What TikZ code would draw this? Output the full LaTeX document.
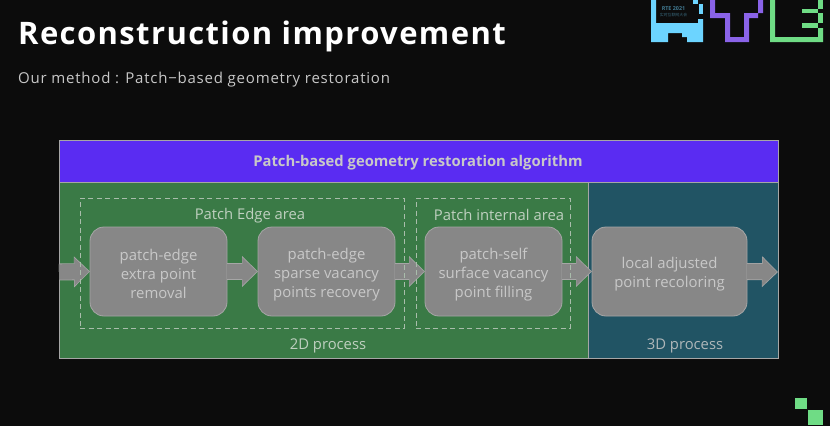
\documentclass[tikz,border=0pt]{standalone}
\usepackage{fontspec}
\setmainfont{Open Sans}
\newfontfamily\titlefont[LetterSpace=4.5]{Open Sans}
\newfontfamily\subfont[LetterSpace=5.2]{Open Sans}
\newfontfamily\cjkfont{Noto Sans CJK SC}
\usetikzlibrary{arrows.meta,calc}
\definecolor{bgc}{HTML}{0C0C0C}
\definecolor{barc}{HTML}{5A2CF2}
\definecolor{greenc}{HTML}{3A7A46}
\definecolor{tealc}{HTML}{215464}
\definecolor{boxc}{HTML}{878787}
\definecolor{edgec}{HTML}{A6A6A6}
\definecolor{txtc}{HTML}{C8C8C8}
\definecolor{lblc}{HTML}{BFD0C0}
\definecolor{dashc}{HTML}{A9BDAB}
\definecolor{logob}{HTML}{6CD4FF}
\definecolor{logop}{HTML}{8A63E8}
\definecolor{logog}{HTML}{6FDC85}
\tikzset{
  x=1pt,y=-1pt,
  panel/.style={draw=edgec,line width=.7pt,anchor=north west,inner sep=0pt,outer sep=0pt},
  stepbox/.style={draw=edgec,line width=.8pt,fill=boxc,rounded corners=14pt,inner sep=0pt,outer sep=0pt,minimum height=89pt},
  steptext/.style={text=txtc,font=\fontsize{14.9}{19}\selectfont,align=center,inner sep=0pt,yshift=-2.7pt},
  areabox/.style={draw=dashc,line width=.8pt,dash pattern=on 5pt off 3.5pt,anchor=north west,inner sep=0pt,outer sep=0pt},
  lbl/.style={text=lblc,font=\fontsize{14.8}{17}\selectfont,inner sep=0pt},
  flowouter/.style={draw=edgec,line width=17pt,-{Triangle[length=16pt,width=30pt,fill=edgec]}},
  flowinner/.style={draw=boxc,line width=15.4pt,shorten >=1.2pt,-{Triangle[length=14.4pt,width=27pt,fill=boxc]}},
}
\newcommand{\flowarrow}[2]{%
  \draw[flowouter] (#1) -- (#2);
  \draw[flowinner] (#1) -- (#2);}
\begin{document}
\begin{tikzpicture}
\useasboundingbox (0,0) rectangle (830,426);
\fill[bgc] (0,0) rectangle (830,426);
% headings
\node[anchor=base west,inner sep=0pt,text=white,font=\titlefont\bfseries\fontsize{31}{36}\selectfont] (title) at (18,44) {Reconstruction improvement};
\node[anchor=base west,inner sep=0pt,text=txtc,font=\subfont\fontsize{15}{18}\selectfont] (sub) at (18,83) {Our method : Patch−based geometry restoration};
% panels
\node[panel,fill=barc,minimum width=719pt,minimum height=42pt] (bar) at (59,140) {};
\node[text=txtc,font=\bfseries\fontsize{14.8}{18}\selectfont,inner sep=0pt] (bartext) at (418,163) {Patch-based geometry restoration algorithm};
\node[panel,fill=greenc,minimum width=529pt,minimum height=176pt] (green) at (59,182) {};
\node[panel,fill=tealc,minimum width=190pt,minimum height=176pt] (teal) at (588,182) {};
% steps
\node[stepbox,minimum width=137pt,label={[steptext]center:{patch-edge\\extra point\\removal}}] (s1) at (158.5,271.5) {};
\node[stepbox,minimum width=137pt,label={[steptext]center:{patch-edge\\sparse vacancy\\points recovery}}] (s2) at (326.5,271.5) {};
\node[stepbox,minimum width=137pt,label={[steptext]center:{patch-self\\surface vacancy\\point filling}}] (s3) at (493.5,271.5) {};
\node[stepbox,minimum width=155pt,label={[steptext]center:{local adjusted\\point recoloring}}] (s4) at (669.5,271.5) {};
\coordinate (in) at (59,272);
\coordinate (out) at (778,272);
% connectors
\flowarrow{in}{s1.west}
\flowarrow{s1.east}{s2.west}
\flowarrow{s2.east}{s3.west}
\flowarrow{s3.east}{s4.west}
\flowarrow{s4.east}{out}
% dashed areas
\node[areabox,minimum width=324pt,minimum height=130pt] (a1) at (80,198) {};
\node[areabox,minimum width=154pt,minimum height=130pt] (a2) at (416,198) {};
\node[lbl] (l1) at (250,215.5) {Patch Edge area};
\node[lbl] (l2) at (499,215) {Patch internal area};
\node[lbl] (l3) at (328,346) {2D process};
\node[lbl,text=txtc!85!tealc] (l4) at (685,346) {3D process};
% logo
\fill[logob] (651,0) -- (651,42) -- (668,42) -- (668,33) -- (682,33) -- (682,37) -- (687,37) -- (687,42) -- (703,42) -- (703,19) -- (698,19) -- (698,23) -- (656,23) -- (656,0) -- cycle;
\fill[logob] (693,0) rectangle (698,3.5);
\fill[logob] (699,4) rectangle (703,14);
\node[text=logob!55!bgc,font=\bfseries\fontsize{5.4}{5}\selectfont,inner sep=0pt] (lg1) at (673.5,8.5) {RTE 2021};
\node[text=logob!45!bgc,font=\cjkfont\fontsize{3.9}{4}\selectfont,inner sep=0pt] (lg2) at (673.5,15) {实时互联网大会};
\fill[logop] (710,0) -- (710,18) -- (725,18) -- (725,42) -- (749,42) -- (749,18) -- (758,18) -- (758,13) -- (763,13) -- (763,0) -- (758,0) -- (758,13) -- (744,13) -- (744,37) -- (730,37) -- (730,13) -- (715,13) -- (715,0) -- cycle;
\fill[logog] (770,0) -- (770,42) -- (823,42) -- (823,28) -- (818,28) -- (818,37) -- (775,37) -- (775,0) -- cycle;
\fill[logog] (802,23) rectangle (818,28);
\fill[logog] (818,13) rectangle (823,23);
\fill[logog] (802,9) rectangle (818,13);
\fill[logog] (818,0) rectangle (823,9);
% corner squares
\fill[logog] (795,398) rectangle (807,409);
\fill[logog] (808,410) rectangle (823,425);
\end{tikzpicture}
\end{document}
